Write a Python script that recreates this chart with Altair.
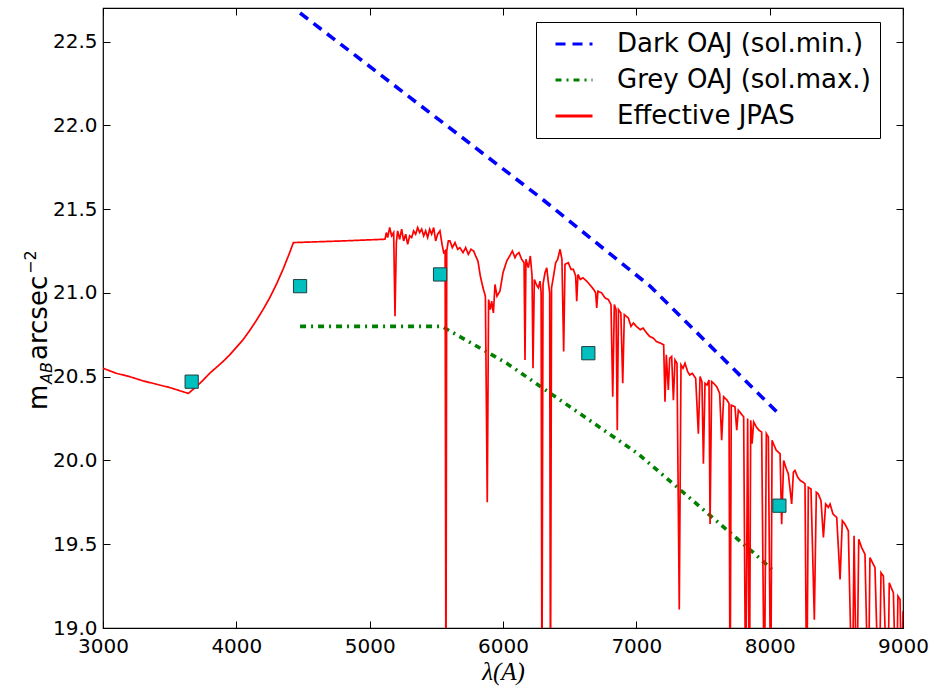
import altair as alt
import pandas as pd

# ---------------- data ----------------
series_names = ["Dark OAJ (sol.min.)", "Grey OAJ (sol.max.)", "Effective JPAS"]

# Effective JPAS sky spectrum: wavelength (A) and mAB arcsec^-2
spec_wl = [3000, 3100, 3200, 3300, 3400, 3500, 3600, 3640, 3700, 3752, 3800, 3850,
           3900, 3950, 4000, 4050, 4100, 4150, 4200, 4250, 4300, 4350, 4400, 4428,
           4800,
           5115, 5125, 5135, 5150, 5165, 5180, 5190, 5200, 5210, 5225, 5240, 5255,
           5270, 5285, 5300, 5315, 5330, 5345, 5360, 5375, 5390, 5405, 5420, 5435,
           5450, 5465, 5480, 5495, 5510, 5527, 5545, 5555, 5566, 5572, 5578, 5590,
           5602, 5620, 5640, 5660, 5677, 5700, 5720, 5740, 5760, 5780, 5795, 5812,
           5830, 5850, 5868, 5882, 5892, 5905, 5915, 5928, 5940, 5955, 5977, 6000,
           6028, 6050, 6070, 6090, 6103, 6120, 6140, 6158, 6165, 6172, 6190, 6205,
           6218, 6225, 6235, 6250, 6265, 6278, 6286, 6292, 6300, 6315, 6328, 6342,
           6350, 6356, 6364, 6377, 6395, 6410, 6428, 6442, 6455, 6465, 6490, 6510,
           6528, 6545, 6553, 6562, 6580, 6600, 6628, 6650, 6680, 6695, 6703, 6712,
           6740, 6765, 6790, 6810, 6823, 6835, 6848, 6857, 6866, 6884, 6898, 6910,
           6940, 6960, 6978, 7000, 7030, 7050, 7078, 7100, 7128, 7150, 7180, 7205,
           7215, 7225, 7240, 7250, 7265, 7278, 7290, 7305, 7322, 7335, 7350, 7365,
           7385, 7400, 7420, 7445, 7465, 7478, 7492, 7503, 7515, 7530, 7545, 7553,
           7565, 7580, 7603, 7625, 7640, 7655, 7680, 7695, 7703, 7712, 7740, 7753,
           7765, 7785, 7805, 7820, 7835, 7848, 7858, 7868, 7880, 7900, 7920, 7940,
           7960, 7975, 7990, 8008, 8018, 8028, 8050, 8078, 8090, 8105, 8125, 8140,
           8165, 8178, 8190, 8210, 8230, 8250, 8265, 8278, 8290, 8310, 8335, 8350,
           8365, 8385, 8403, 8420, 8440, 8453, 8475, 8503, 8528, 8545, 8565, 8590,
           8620, 8633, 8653, 8668, 8690, 8715, 8740, 8752, 8765, 8790, 8820, 8835,
           8853, 8885, 8897, 8912, 8928, 8950, 8962, 8978, 8990, 9000]
spec_mag = [20.55, 20.52, 20.50, 20.475, 20.455, 20.435, 20.41, 20.40, 20.44, 20.48, 20.52, 20.555,
            20.59, 20.63, 20.675, 20.72, 20.775, 20.835, 20.90, 20.97, 21.05, 21.14, 21.24, 21.30,
            21.31,
            21.32, 21.36, 21.33, 21.39, 21.34, 21.36, 20.86, 21.30, 21.37, 21.32, 21.38, 21.31,
            21.35, 21.29, 21.34, 21.33, 21.37, 21.35, 21.39, 21.36, 21.38, 21.34, 21.37, 21.33,
            21.38, 21.35, 21.39, 21.31, 21.35, 21.37, 21.28, 21.24, 21.25, 18.50, 21.25, 21.31,
            21.31, 21.27, 21.30, 21.26, 21.27, 21.24, 21.27, 21.23, 21.26, 21.25, 21.22, 21.19,
            21.10, 21.03, 20.98, 19.75, 20.96, 20.90, 20.95, 20.88, 21.05, 20.98, 21.01, 21.12,
            21.19, 21.22, 21.25, 21.21, 21.23, 21.24, 21.20, 21.18, 20.60, 21.20, 21.15, 21.22,
            21.10, 20.55, 21.08, 21.05, 21.03, 21.07, 21.00, 18.50, 21.05, 21.12, 21.15, 21.05,
            21.00, 18.50, 21.03, 21.09, 21.18, 21.20, 21.26, 21.20, 20.65, 21.17, 21.18, 21.14,
            21.14, 21.10, 20.95, 21.11, 21.08, 21.09, 21.07, 21.05, 21.02, 21.00, 20.91, 21.01,
            21.00, 20.97, 20.96, 20.93, 20.38, 20.93, 20.90, 20.18, 20.90, 20.88, 20.46, 20.87,
            20.85, 20.80, 20.82, 20.80, 20.78, 20.79, 20.76, 20.74, 20.73, 20.71, 20.70, 20.69,
            20.35, 20.63, 20.42, 20.61, 20.62, 20.36, 20.60, 20.58, 19.11, 20.57, 20.55, 20.58,
            20.53, 20.51, 20.52, 20.49, 20.16, 20.50, 20.47, 19.98, 20.46, 20.45, 20.48, 19.62,
            20.47, 20.46, 20.44, 20.40, 20.12, 20.38, 20.36, 20.34, 18.50, 20.33, 20.32, 20.18,
            20.30, 20.28, 20.26, 18.50, 20.25, 18.50, 20.24, 20.10, 20.23, 20.20, 20.18, 20.17,
            18.50, 20.16, 20.14, 18.50, 20.12, 20.10, 20.06, 20.04, 19.62, 20.00, 19.95, 19.92,
            19.74, 19.93, 19.94, 19.90, 19.88, 19.87, 19.86, 18.50, 19.84, 19.83, 19.05, 19.81,
            19.80, 19.76, 19.54, 19.74, 19.72, 19.74, 19.68, 19.66, 19.29, 19.64, 19.62, 19.58,
            18.50, 19.55, 18.50, 19.53, 19.48, 19.44, 18.50, 19.42, 19.40, 19.36, 18.50, 19.33,
            19.31, 18.50, 19.27, 19.24, 19.21, 18.50, 19.19, 19.17, 18.60, 19.10]

# Dark OAJ (solar minimum) sky brightness
dark_wl = [4478, 6278, 7103, 8066]
dark_mag = [22.67, 21.57, 21.04, 20.28]

# Grey OAJ (solar maximum) sky brightness
grey_wl = [4478, 5541, 6028, 7013, 7878, 8016]
grey_mag = [20.80, 20.80, 20.58, 20.04, 19.45, 19.35]

# Broad-band synthetic magnitudes (cyan squares)
band_wl = [3665, 4478, 5528, 6640, 8073]
band_mag = [20.47, 21.04, 21.11, 20.64, 19.73]

x_ticks = [3000, 4000, 5000, 6000, 7000, 8000, 9000]
y_ticks = [19.0, 19.5, 20.0, 20.5, 21.0, 21.5, 22.0, 22.5]

# ---------------- tables ----------------
rows = []
for w, m in zip(dark_wl, dark_mag):
    rows.append({"wl": w, "mag": m, "series": series_names[0]})
for w, m in zip(grey_wl, grey_mag):
    rows.append({"wl": w, "mag": m, "series": series_names[1]})
sky_df = pd.DataFrame(rows)
spec_df = pd.DataFrame({"wl": spec_wl, "mag": spec_mag, "series": series_names[2]})
bands_df = pd.DataFrame({"wl": band_wl, "mag": band_mag})

FONT = "DejaVu Sans"
xscale = alt.Scale(domain=[3000, 9000], nice=False, zero=False)
yscale = alt.Scale(domain=[19.0, 22.7], nice=False, zero=False)

legend_kw = dict(
    orient="none", legendX=433, legendY=14, title=None,
    labelFontSize=26, labelFont=FONT, labelColor="black", labelLimit=500,
    symbolType="M-2,0L2,0", symbolSize=342, symbolStrokeWidth=3,
    symbolOffset=16, labelOffset=30, rowPadding=10,
    padding=9, strokeColor="black", fillColor="white", cornerRadius=0,
)

color_enc = alt.Color("series:N",
                      scale=alt.Scale(domain=series_names,
                                      range=["#0000ff", "#008000", "#ff0000"]),
                      legend=alt.Legend(**legend_kw))
dash_enc = alt.StrokeDash("series:N",
                          scale=alt.Scale(domain=series_names,
                                          range=[[10, 7], [6, 5, 2, 5], [1, 0]]),
                          legend=alt.Legend(**legend_kw))

x_main = alt.X("wl:Q", scale=xscale,
               axis=alt.Axis(orient="bottom", values=x_ticks, format="d",
                             labelFontSize=20, labelFont=FONT, labelColor="black",
                             labelFlush=False, labelOverlap=False,
                             tickSize=0, domain=False, grid=False, labelPadding=8,
                             title="λ(A)", titleFont="Liberation Serif",
                             titleFontStyle="italic", titleFontSize=25,
                             titleFontWeight="normal", titleColor="black",
                             titlePadding=3))
y_main = alt.Y("mag:Q", scale=yscale,
               axis=alt.Axis(orient="left", values=y_ticks, format=".1f",
                             labelFontSize=20, labelFont=FONT, labelColor="black",
                             labelFlush=False, labelOverlap=False,
                             tickSize=0, domain=False, grid=False, labelPadding=6,
                             title=None))

sky = alt.Chart(sky_df).mark_line(clip=True, strokeWidth=3.6).encode(
    x=x_main, y=y_main, color=color_enc, strokeDash=dash_enc
)

spec = alt.Chart(spec_df).mark_line(clip=True, strokeWidth=1.7).encode(
    x=alt.X("wl:Q", scale=xscale, axis=None),
    y=alt.Y("mag:Q", scale=yscale, axis=None),
    color=color_enc, strokeDash=dash_enc
)

squares = alt.Chart(bands_df).mark_square(
    size=175, color="#00bfbf", filled=True, opacity=1,
    stroke="#1f3f3f", strokeWidth=1
).encode(
    x=alt.X("wl:Q", scale=xscale,
            axis=alt.Axis(orient="bottom", offset=-7, tickSize=7, labels=False,
                          domain=False, grid=False, title=None, values=x_ticks,
                          tickColor="black")),
    y=alt.Y("mag:Q", scale=yscale,
            axis=alt.Axis(orient="left", offset=-7, tickSize=7, labels=False,
                          domain=False, grid=False, title=None, values=y_ticks,
                          tickColor="black")),
)

ticks_far = alt.Chart(bands_df).mark_point(opacity=0).encode(
    x=alt.X("wl:Q", scale=xscale,
            axis=alt.Axis(orient="top", offset=-7, tickSize=7, labels=False,
                          domain=False, grid=False, title=None, values=x_ticks,
                          tickColor="black")),
    y=alt.Y("mag:Q", scale=yscale,
            axis=alt.Axis(orient="right", offset=-7, tickSize=7, labels=False,
                          domain=False, grid=False, title=None, values=y_ticks,
                          tickColor="black")),
)

# y-axis title pieces: m_AB arcsec^-2 (rotated)
one = alt.Data(values=[{"k": 1}])
def ytitle(txt, size, xpos, ypos, style="normal"):
    return alt.Chart(one).mark_text(
        text=txt, angle=270, align="left", baseline="alphabetic",
        font=FONT, fontSize=size, fontStyle=style, color="black"
    ).encode(x=alt.value(xpos), y=alt.value(ypos))

t_m = ytitle("m", 26, -56, 402)
t_ab = ytitle("AB", 16, -51, 376, "italic")
t_arc = ytitle("arcsec", 26, -56, 352)
t_exp = ytitle("−2", 16, -67, 266)

chart = alt.layer(sky, spec, squares, ticks_far, t_m, t_ab, t_arc, t_exp).resolve_axis(
    x="independent", y="independent"
).properties(
    width=800, height=620,
    autosize=alt.AutoSizeParams(type="none"),
    padding={"left": 103, "top": 8, "right": 30, "bottom": 61},
    background="white",
).configure(font=FONT).configure_view(stroke="black", strokeWidth=1.2)

chart.save("out.html", embed_options={"renderer": "svg", "actions": False})
